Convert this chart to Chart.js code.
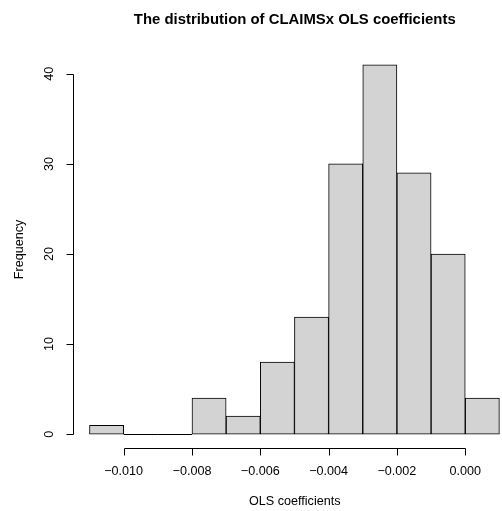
<!DOCTYPE html>
<html><head><meta charset="utf-8">
<script src="https://cdn.jsdelivr.net/npm/chart.js@4"></script>
<style>html,body{margin:0;padding:0;background:#fff}#wrap{width:502px;height:511px}</style>
</head><body><div id="wrap"><canvas id="c" width="502" height="511"></canvas></div>
<script>
// Data
const binMids = [-0.0105, -0.0095, -0.0085, -0.0075, -0.0065, -0.0055, -0.0045, -0.0035, -0.0025, -0.0015, -0.0005, 0.0005];
const counts  = [1, 0, 0, 4, 2, 8, 13, 30, 41, 29, 20, 4];
const binWidth = 0.001;
const xTicks = [-0.010, -0.008, -0.006, -0.004, -0.002, 0.000];
const xTickLabels = ["\u22120.010", "\u22120.008", "\u22120.006", "\u22120.004", "\u22120.002", "0.000"];
const yTicks = [0, 10, 20, 30, 40];
const yTickLabels = ["0", "10", "20", "30", "40"];
const mainTitle = "The distribution of CLAIMSx OLS coefficients";
const xTitle = "OLS coefficients";
const yTitle = "Frequency";

const FONT = '"Liberation Sans", Arial, Helvetica, sans-serif';

const rAxes = {
  id: 'rAxes',
  afterDatasetsDraw(chart) {
    // empty bins drawn as a line on the baseline, like R's hist()
    const ctx = chart.ctx;
    const xs = chart.scales.x, ys = chart.scales.y;
    const yb = Math.round(ys.getPixelForValue(0)) + 0.5;
    ctx.save();
    ctx.strokeStyle = '#000';
    ctx.lineWidth = 1;
    ctx.beginPath();
    counts.forEach((c, i) => {
      if (c === 0) {
        ctx.moveTo(xs.getPixelForValue(binMids[i] - binWidth / 2), yb);
        ctx.lineTo(xs.getPixelForValue(binMids[i] + binWidth / 2), yb);
      }
    });
    ctx.stroke();
    ctx.restore();
  },
  afterDraw(chart) {
    const ctx = chart.ctx;
    const xs = chart.scales.x, ys = chart.scales.y;
    const area = chart.chartArea;
    const axY = Math.round(ys.getPixelForValue(-1.64)) - 0.5;
    const axX = Math.round(xs.getPixelForValue(-0.011483)) + 0.5;
    ctx.save();
    ctx.strokeStyle = '#000';
    ctx.lineWidth = 1;
    ctx.fillStyle = '#000';
    // x axis
    const x0 = Math.round(xs.getPixelForValue(xTicks[0])) + 0.5;
    const x1 = Math.round(xs.getPixelForValue(xTicks[xTicks.length - 1])) + 0.5;
    ctx.beginPath();
    ctx.moveTo(x0, axY); ctx.lineTo(x1, axY);
    xTicks.forEach(v => {
      const p = Math.round(xs.getPixelForValue(v)) + 0.5;
      ctx.moveTo(p, axY); ctx.lineTo(p, axY + 7);
    });
    // y axis
    const y0 = Math.round(ys.getPixelForValue(yTicks[0])) + 0.5;
    const y1 = Math.round(ys.getPixelForValue(yTicks[yTicks.length - 1])) + 0.5;
    ctx.moveTo(axX, y0); ctx.lineTo(axX, y1);
    yTicks.forEach(v => {
      const p = Math.round(ys.getPixelForValue(v)) + 0.5;
      ctx.moveTo(axX, p); ctx.lineTo(axX - 7, p);
    });
    ctx.stroke();

    // tick labels
    ctx.font = '12.6px ' + FONT;
    ctx.textAlign = 'center';
    ctx.textBaseline = 'middle';
    xTicks.forEach((v, i) => {
      ctx.fillText(xTickLabels[i], xs.getPixelForValue(v), 472);
    });
    yTicks.forEach((v, i) => {
      ctx.save();
      ctx.translate(50, ys.getPixelForValue(v));
      ctx.rotate(-Math.PI / 2);
      ctx.fillText(yTickLabels[i], 0, 0);
      ctx.restore();
    });
    // axis titles
    const cx = (axX + 516) / 2;
    ctx.fillText(xTitle, cx, 502);
    ctx.save();
    ctx.translate(20, (area.top + area.bottom) / 2);
    ctx.rotate(-Math.PI / 2);
    ctx.fillText(yTitle, 0, 0);
    ctx.restore();
    // main title
    ctx.font = 'bold 14.9px ' + FONT;
    ctx.fillText(mainTitle, cx, 20);
    ctx.restore();
  }
};

new Chart(document.getElementById('c'), {
  type: 'bar',
  data: {
    datasets: [{
      data: binMids.map((m, i) => ({ x: m, y: counts[i] })),
      backgroundColor: '#D3D3D3',
      borderColor: '#000000',
      borderWidth: 1,
      borderSkipped: false,
      barPercentage: 1,
      categoryPercentage: 1,
      grouped: false
    }]
  },
  options: {
    responsive: false,
    devicePixelRatio: 1,
    animation: false,
    layout: { padding: { left: 73, right: 0, top: 50, bottom: 62 } },
    plugins: { legend: { display: false }, title: { display: false }, tooltip: { enabled: false } },
    scales: {
      x: { type: 'linear', min: -0.011483, max: 0.001076, display: false, offset: false },
      y: { type: 'linear', min: -1.64, max: 42.64, display: false }
    }
  },
  plugins: [rAxes]
});
</script>
</body></html>
